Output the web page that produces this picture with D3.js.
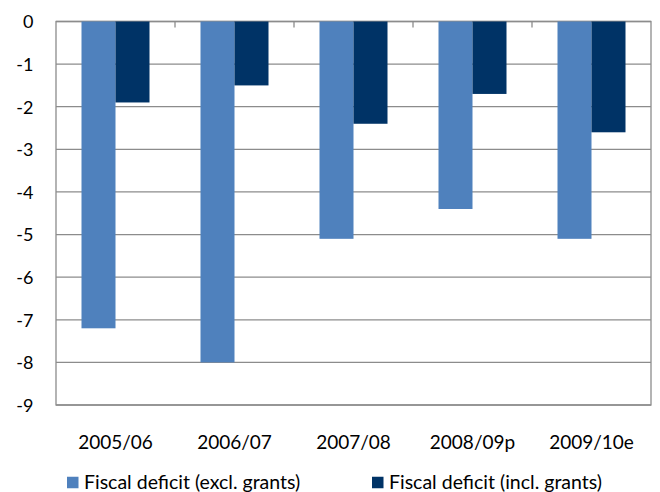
<!DOCTYPE html>
<html>
<head>
<meta charset="utf-8">
<script src="https://cdn.jsdelivr.net/npm/d3@7"></script>
<style>
  html, body { margin: 0; padding: 0; background: #fff; }
  svg { display: block; font-family: Lato, "Open Sans", sans-serif; }
</style>
</head>
<body>
<svg id="chart" width="660" height="492"></svg>
<script>
// Fiscal deficit, % of GDP
const categories = ["2005/06", "2006/07", "2007/08", "2008/09p", "2009/10e"];
const seriesNames = ["Fiscal deficit (excl. grants)", "Fiscal deficit (incl. grants)"];
const exclGrants = [-7.2, -8.0, -5.1, -4.4, -5.1];
const inclGrants = [-1.9, -1.5, -2.4, -1.7, -2.6];
const yTicks = [0, -1, -2, -3, -4, -5, -6, -7, -8, -9];
const colors = ["#4f81bd", "#003366"];

const svg = d3.select("#chart");
const plot = { left: 56, right: 651, top: 21.5, bottom: 405 };

const x0 = d3.scaleBand()
  .domain(categories)
  .range([plot.left, plot.right])
  .paddingInner(0)
  .paddingOuter(0);

// two bars per category, with gap width of 150% of a bar
const x1 = d3.scaleBand()
  .domain(seriesNames)
  .range([0, x0.bandwidth()])
  .paddingOuter(0.75)
  .paddingInner(0);

const y = d3.scaleLinear().domain([0, -9]).range([plot.top, plot.bottom]);

// gridlines
svg.append("g")
  .selectAll("line")
  .data(yTicks)
  .join("line")
  .attr("x1", plot.left)
  .attr("x2", plot.right)
  .attr("y1", d => y(d))
  .attr("y2", d => y(d))
  .attr("stroke", "#8c8c8c")
  .attr("stroke-width", 1.3);

// plot frame
svg.append("rect")
  .attr("x", plot.left)
  .attr("y", plot.top)
  .attr("width", plot.right - plot.left)
  .attr("height", plot.bottom - plot.top)
  .attr("fill", "none")
  .attr("stroke", "#8c8c8c")
  .attr("stroke-width", 1.3);

// category tick marks along the zero line
svg.append("g")
  .selectAll("line")
  .data(categories.slice(1))
  .join("line")
  .attr("x1", d => x0(d))
  .attr("x2", d => x0(d))
  .attr("y1", y(0))
  .attr("y2", y(0) + 6)
  .attr("stroke", "#8c8c8c")
  .attr("stroke-width", 1.3);

const rows = categories.map((c, i) => ({ cat: c, vals: [exclGrants[i], inclGrants[i]] }));

svg.append("g")
  .selectAll("g")
  .data(rows)
  .join("g")
  .attr("transform", d => `translate(${x0(d.cat)},0)`)
  .selectAll("rect")
  .data(d => d.vals.map((v, j) => ({ name: seriesNames[j], v, j })))
  .join("rect")
  .attr("x", d => x1(d.name))
  .attr("width", x1.bandwidth())
  .attr("y", d => y(0))
  .attr("height", d => y(d.v) - y(0))
  .attr("fill", d => colors[d.j]);

// y axis labels
svg.append("g")
  .selectAll("text")
  .data(yTicks)
  .join("text")
  .attr("x", 33.5)
  .attr("y", d => y(d) + 0.5)
  .attr("dy", "0.35em")
  .attr("text-anchor", "end")
  .attr("font-size", 18)
  .attr("fill", "#000")
  .text(d => d === 0 ? "0" : "-" + Math.abs(d));

// category labels
svg.append("g")
  .selectAll("text")
  .data(categories)
  .join("text")
  .attr("x", d => x0(d) + x0.bandwidth() / 2)
  .attr("y", 442)
  .attr("dy", "0.35em")
  .attr("text-anchor", "middle")
  .attr("font-size", 19)
  .attr("fill", "#000")
  .text(d => d);

// legend
const legendX = [67, 372];
const legend = svg.append("g")
  .selectAll("g")
  .data(seriesNames)
  .join("g")
  .attr("transform", (d, i) => `translate(${legendX[i]},482.5)`);

legend.append("rect")
  .attr("x", 0)
  .attr("y", -5.75)
  .attr("width", 11.5)
  .attr("height", 11.5)
  .attr("fill", (d, i) => colors[i]);

legend.append("text")
  .attr("x", 17)
  .attr("y", 0)
  .attr("dy", "0.35em")
  .attr("font-size", 19.5)
  .attr("fill", "#000")
  .text(d => d);
</script>
</body>
</html>
